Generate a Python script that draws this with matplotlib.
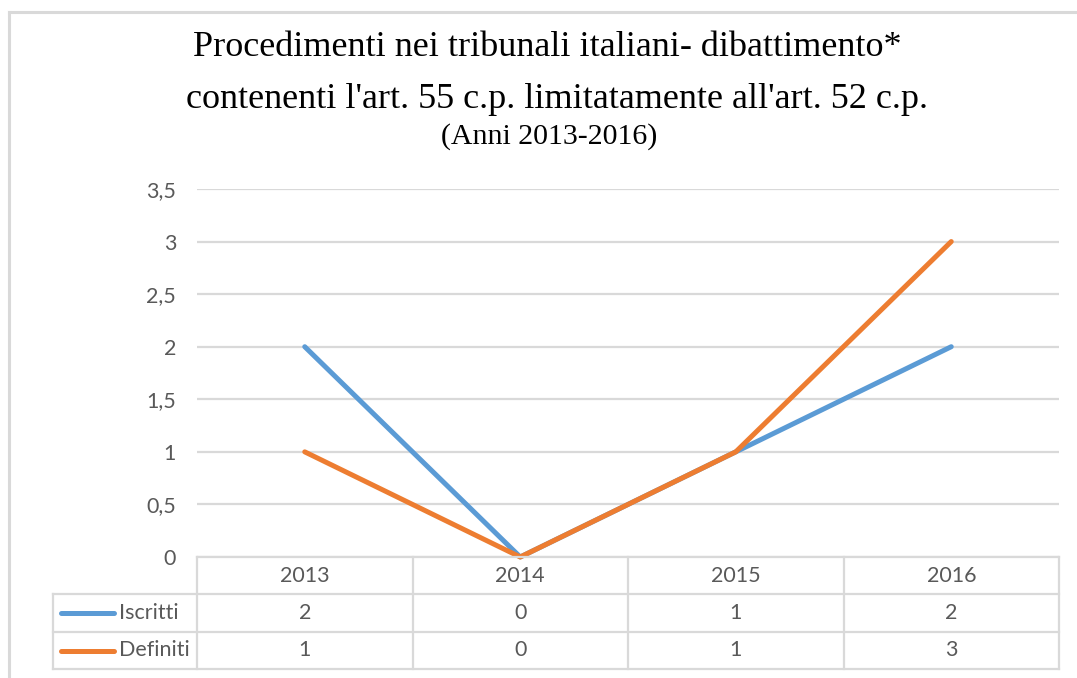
import matplotlib
matplotlib.use("Agg")
import matplotlib.pyplot as plt
from matplotlib.lines import Line2D

years = ["2013", "2014", "2015", "2016"]
iscritti = [2, 0, 1, 2]
definiti = [1, 0, 1, 3]
series_names = ["Iscritti", "Definiti"]
yticks = [0, 0.5, 1, 1.5, 2, 2.5, 3, 3.5]
ytick_labels = ["0", "0,5", "1", "1,5", "2", "2,5", "3", "3,5"]
title_lines = ["Procedimenti nei tribunali italiani- dibattimento*",
               "contenenti l'art. 55 c.p. limitatamente all'art. 52 c.p.",
               "(Anni 2013-2016)"]

W, H = 1077, 678
fig = plt.figure(figsize=(W / 100, H / 100), dpi=100)
fig.patch.set_facecolor("white")

def fx(px):
    return px / W

def fy(py):
    return 1 - py / H

BLUE = "#5B9BD5"
ORANGE = "#ED7D31"
GRID = "#D9D9D9"
TXT = "#595959"
sans = "Lato"
FS = 15.5

# outer frame (top and left)
fig.add_artist(Line2D([fx(9), fx(W)], [fy(12), fy(12)], color="#D9D9D9", lw=2.2))
fig.add_artist(Line2D([fx(9), fx(9)], [fy(12), fy(H)], color="#D9D9D9", lw=2.2))

left, right, top, bottom = 197, 1059, 189, 557
ax = fig.add_axes([fx(left), fy(bottom), fx(right - left), fy(top) - fy(bottom)])
ax.set_xlim(-0.5, len(years) - 0.5)
ax.set_ylim(0, 3.5)
for s in ax.spines.values():
    s.set_visible(False)
ax.set_xticks([])
ax.set_yticks(yticks)
ax.set_yticklabels(ytick_labels, fontfamily=sans, fontsize=FS, color=TXT)
ax.tick_params(axis="y", length=0, pad=15)
ax.yaxis.grid(True, color=GRID, lw=1.6)
ax.set_axisbelow(True)

x = list(range(len(years)))
ax.plot(x, iscritti, color=BLUE, lw=3.6, solid_capstyle="round", clip_on=False, zorder=3)
ax.plot(x, definiti, color=ORANGE, lw=3.6, solid_capstyle="round", clip_on=False, zorder=4)

# data table
row_y = [557, 594, 632, 669]
col_x = [left + (right - left) * i / len(years) for i in range(len(years) + 1)]
leg_left = 53
lw_t = 1.6
fig.add_artist(Line2D([fx(left), fx(right)], [fy(row_y[0])] * 2, color=GRID, lw=lw_t))
for yy in row_y[1:]:
    fig.add_artist(Line2D([fx(leg_left), fx(right)], [fy(yy)] * 2, color=GRID, lw=lw_t))
for xx in col_x:
    fig.add_artist(Line2D([fx(xx)] * 2, [fy(row_y[0]), fy(row_y[3])], color=GRID, lw=lw_t))
fig.add_artist(Line2D([fx(leg_left)] * 2, [fy(row_y[1]), fy(row_y[3])], color=GRID, lw=lw_t))

for i, yr in enumerate(years):
    cx = (col_x[i] + col_x[i + 1]) / 2
    fig.text(fx(cx), fy((row_y[0] + row_y[1]) / 2), yr, ha="center", va="center",
             fontfamily=sans, fontsize=FS, color=TXT)
    for r, vals in enumerate([iscritti, definiti]):
        fig.text(fx(cx), fy((row_y[r + 1] + row_y[r + 2]) / 2), str(vals[i]), ha="center",
                 va="center", fontfamily=sans, fontsize=FS, color=TXT)

for r, (name, col) in enumerate(zip(series_names, [BLUE, ORANGE])):
    cy = (row_y[r + 1] + row_y[r + 2]) / 2
    fig.add_artist(Line2D([fx(61), fx(114)], [fy(cy)] * 2, color=col, lw=3.6, solid_capstyle="round"))
    fig.text(fx(119), fy(cy), name, ha="left", va="center", fontfamily=sans, fontsize=FS, color=TXT)

# title
fig.text(fx(547), fy(47), title_lines[0], ha="center", va="center",
         fontfamily="Liberation Serif", fontsize=26, color="black")
fig.text(fx(557), fy(100), title_lines[1], ha="center", va="center",
         fontfamily="Liberation Serif", fontsize=26, color="black")
fig.text(fx(549), fy(137), title_lines[2], ha="center", va="center",
         fontfamily="Liberation Serif", fontsize=21.5, color="black")

fig.savefig("out.png", dpi=100)
